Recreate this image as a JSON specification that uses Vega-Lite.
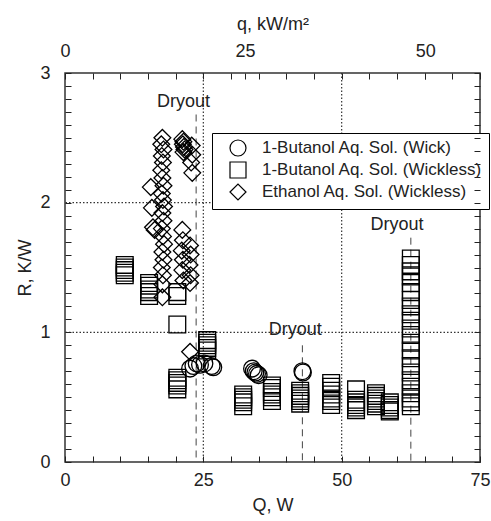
{
  "$schema": "https://vega.github.io/schema/vega-lite/v6.json",
  "width": 415,
  "height": 389,
  "autosize": {"type": "none"},
  "padding": {"left": 65, "top": 73, "right": 11, "bottom": 59},
  "background": "white",
  "config": {
    "font": "Liberation Sans",
    "view": {"stroke": "#333", "strokeWidth": 1.5},
    "axis": {
      "domain": false,
      "grid": false,
      "labelFont": "Liberation Sans",
      "labelFontSize": 18,
      "labelColor": "#222",
      "titleFont": "Liberation Sans",
      "titleFontSize": 18,
      "titleFontWeight": "normal",
      "titleColor": "#222",
      "labelFlush": false,
      "labelOverlap": false
    }
  },
  "datasets": {
    "pts": [
      {"Q": 22.6, "R": 0.72, "series": "1-Butanol Aq. Sol. (Wick)"},
      {"Q": 23.2, "R": 0.74, "series": "1-Butanol Aq. Sol. (Wick)"},
      {"Q": 23.8, "R": 0.76, "series": "1-Butanol Aq. Sol. (Wick)"},
      {"Q": 24.4, "R": 0.75, "series": "1-Butanol Aq. Sol. (Wick)"},
      {"Q": 25.2, "R": 0.76, "series": "1-Butanol Aq. Sol. (Wick)"},
      {"Q": 26.5, "R": 0.74, "series": "1-Butanol Aq. Sol. (Wick)"},
      {"Q": 26.8, "R": 0.73, "series": "1-Butanol Aq. Sol. (Wick)"},
      {"Q": 33.8, "R": 0.72, "series": "1-Butanol Aq. Sol. (Wick)"},
      {"Q": 34.1, "R": 0.7, "series": "1-Butanol Aq. Sol. (Wick)"},
      {"Q": 34.4, "R": 0.69, "series": "1-Butanol Aq. Sol. (Wick)"},
      {"Q": 34.7, "R": 0.68, "series": "1-Butanol Aq. Sol. (Wick)"},
      {"Q": 35.0, "R": 0.67, "series": "1-Butanol Aq. Sol. (Wick)"},
      {"Q": 42.9, "R": 0.7, "series": "1-Butanol Aq. Sol. (Wick)"},
      {"Q": 43.0, "R": 0.69, "series": "1-Butanol Aq. Sol. (Wick)"},

      {"Q": 10.8, "R": 1.52, "series": "1-Butanol Aq. Sol. (Wickless)"},
      {"Q": 10.8, "R": 1.5, "series": "1-Butanol Aq. Sol. (Wickless)"},
      {"Q": 10.8, "R": 1.48, "series": "1-Butanol Aq. Sol. (Wickless)"},
      {"Q": 10.8, "R": 1.46, "series": "1-Butanol Aq. Sol. (Wickless)"},
      {"Q": 10.8, "R": 1.44, "series": "1-Butanol Aq. Sol. (Wickless)"},
      {"Q": 15.2, "R": 1.38, "series": "1-Butanol Aq. Sol. (Wickless)"},
      {"Q": 15.2, "R": 1.36, "series": "1-Butanol Aq. Sol. (Wickless)"},
      {"Q": 15.2, "R": 1.33, "series": "1-Butanol Aq. Sol. (Wickless)"},
      {"Q": 15.2, "R": 1.31, "series": "1-Butanol Aq. Sol. (Wickless)"},
      {"Q": 15.2, "R": 1.28, "series": "1-Butanol Aq. Sol. (Wickless)"},
      {"Q": 20.3, "R": 1.31, "series": "1-Butanol Aq. Sol. (Wickless)"},
      {"Q": 20.3, "R": 1.28, "series": "1-Butanol Aq. Sol. (Wickless)"},
      {"Q": 20.3, "R": 1.06, "series": "1-Butanol Aq. Sol. (Wickless)"},
      {"Q": 25.7, "R": 0.94, "series": "1-Butanol Aq. Sol. (Wickless)"},
      {"Q": 25.7, "R": 0.92, "series": "1-Butanol Aq. Sol. (Wickless)"},
      {"Q": 25.7, "R": 0.9, "series": "1-Butanol Aq. Sol. (Wickless)"},
      {"Q": 25.7, "R": 0.88, "series": "1-Butanol Aq. Sol. (Wickless)"},
      {"Q": 25.7, "R": 0.86, "series": "1-Butanol Aq. Sol. (Wickless)"},
      {"Q": 20.3, "R": 0.65, "series": "1-Butanol Aq. Sol. (Wickless)"},
      {"Q": 20.3, "R": 0.63, "series": "1-Butanol Aq. Sol. (Wickless)"},
      {"Q": 20.3, "R": 0.61, "series": "1-Butanol Aq. Sol. (Wickless)"},
      {"Q": 20.3, "R": 0.59, "series": "1-Butanol Aq. Sol. (Wickless)"},
      {"Q": 20.3, "R": 0.56, "series": "1-Butanol Aq. Sol. (Wickless)"},
      {"Q": 32.2, "R": 0.52, "series": "1-Butanol Aq. Sol. (Wickless)"},
      {"Q": 32.2, "R": 0.5, "series": "1-Butanol Aq. Sol. (Wickless)"},
      {"Q": 32.2, "R": 0.48, "series": "1-Butanol Aq. Sol. (Wickless)"},
      {"Q": 32.2, "R": 0.46, "series": "1-Butanol Aq. Sol. (Wickless)"},
      {"Q": 32.2, "R": 0.43, "series": "1-Butanol Aq. Sol. (Wickless)"},
      {"Q": 37.4, "R": 0.59, "series": "1-Butanol Aq. Sol. (Wickless)"},
      {"Q": 37.4, "R": 0.57, "series": "1-Butanol Aq. Sol. (Wickless)"},
      {"Q": 37.4, "R": 0.54, "series": "1-Butanol Aq. Sol. (Wickless)"},
      {"Q": 37.4, "R": 0.52, "series": "1-Butanol Aq. Sol. (Wickless)"},
      {"Q": 37.4, "R": 0.5, "series": "1-Butanol Aq. Sol. (Wickless)"},
      {"Q": 37.4, "R": 0.47, "series": "1-Butanol Aq. Sol. (Wickless)"},
      {"Q": 42.5, "R": 0.55, "series": "1-Butanol Aq. Sol. (Wickless)"},
      {"Q": 42.5, "R": 0.53, "series": "1-Butanol Aq. Sol. (Wickless)"},
      {"Q": 42.5, "R": 0.51, "series": "1-Butanol Aq. Sol. (Wickless)"},
      {"Q": 42.5, "R": 0.49, "series": "1-Butanol Aq. Sol. (Wickless)"},
      {"Q": 42.5, "R": 0.47, "series": "1-Butanol Aq. Sol. (Wickless)"},
      {"Q": 42.5, "R": 0.45, "series": "1-Butanol Aq. Sol. (Wickless)"},
      {"Q": 48.1, "R": 0.61, "series": "1-Butanol Aq. Sol. (Wickless)"},
      {"Q": 48.1, "R": 0.58, "series": "1-Butanol Aq. Sol. (Wickless)"},
      {"Q": 48.1, "R": 0.55, "series": "1-Butanol Aq. Sol. (Wickless)"},
      {"Q": 48.1, "R": 0.52, "series": "1-Butanol Aq. Sol. (Wickless)"},
      {"Q": 48.1, "R": 0.49, "series": "1-Butanol Aq. Sol. (Wickless)"},
      {"Q": 48.1, "R": 0.47, "series": "1-Butanol Aq. Sol. (Wickless)"},
      {"Q": 48.1, "R": 0.44, "series": "1-Butanol Aq. Sol. (Wickless)"},
      {"Q": 52.6, "R": 0.56, "series": "1-Butanol Aq. Sol. (Wickless)"},
      {"Q": 52.6, "R": 0.48, "series": "1-Butanol Aq. Sol. (Wickless)"},
      {"Q": 52.6, "R": 0.46, "series": "1-Butanol Aq. Sol. (Wickless)"},
      {"Q": 52.6, "R": 0.44, "series": "1-Butanol Aq. Sol. (Wickless)"},
      {"Q": 52.6, "R": 0.42, "series": "1-Butanol Aq. Sol. (Wickless)"},
      {"Q": 52.6, "R": 0.4, "series": "1-Butanol Aq. Sol. (Wickless)"},
      {"Q": 56.2, "R": 0.53, "series": "1-Butanol Aq. Sol. (Wickless)"},
      {"Q": 56.2, "R": 0.51, "series": "1-Butanol Aq. Sol. (Wickless)"},
      {"Q": 56.2, "R": 0.49, "series": "1-Butanol Aq. Sol. (Wickless)"},
      {"Q": 56.2, "R": 0.47, "series": "1-Butanol Aq. Sol. (Wickless)"},
      {"Q": 56.2, "R": 0.45, "series": "1-Butanol Aq. Sol. (Wickless)"},
      {"Q": 56.2, "R": 0.43, "series": "1-Butanol Aq. Sol. (Wickless)"},
      {"Q": 58.7, "R": 0.46, "series": "1-Butanol Aq. Sol. (Wickless)"},
      {"Q": 58.7, "R": 0.44, "series": "1-Butanol Aq. Sol. (Wickless)"},
      {"Q": 58.7, "R": 0.42, "series": "1-Butanol Aq. Sol. (Wickless)"},
      {"Q": 58.7, "R": 0.4, "series": "1-Butanol Aq. Sol. (Wickless)"},
      {"Q": 58.7, "R": 0.39, "series": "1-Butanol Aq. Sol. (Wickless)"},
      {"Q": 62.5, "R": 1.57, "series": "1-Butanol Aq. Sol. (Wickless)"},
      {"Q": 62.5, "R": 1.52, "series": "1-Butanol Aq. Sol. (Wickless)"},
      {"Q": 62.5, "R": 1.47, "series": "1-Butanol Aq. Sol. (Wickless)"},
      {"Q": 62.5, "R": 1.43, "series": "1-Butanol Aq. Sol. (Wickless)"},
      {"Q": 62.5, "R": 1.38, "series": "1-Butanol Aq. Sol. (Wickless)"},
      {"Q": 62.5, "R": 1.31, "series": "1-Butanol Aq. Sol. (Wickless)"},
      {"Q": 62.5, "R": 1.25, "series": "1-Butanol Aq. Sol. (Wickless)"},
      {"Q": 62.5, "R": 1.2, "series": "1-Butanol Aq. Sol. (Wickless)"},
      {"Q": 62.5, "R": 1.14, "series": "1-Butanol Aq. Sol. (Wickless)"},
      {"Q": 62.5, "R": 1.09, "series": "1-Butanol Aq. Sol. (Wickless)"},
      {"Q": 62.5, "R": 1.03, "series": "1-Butanol Aq. Sol. (Wickless)"},
      {"Q": 62.5, "R": 0.98, "series": "1-Butanol Aq. Sol. (Wickless)"},
      {"Q": 62.5, "R": 0.92, "series": "1-Butanol Aq. Sol. (Wickless)"},
      {"Q": 62.5, "R": 0.86, "series": "1-Butanol Aq. Sol. (Wickless)"},
      {"Q": 62.5, "R": 0.8, "series": "1-Butanol Aq. Sol. (Wickless)"},
      {"Q": 62.5, "R": 0.74, "series": "1-Butanol Aq. Sol. (Wickless)"},
      {"Q": 62.5, "R": 0.69, "series": "1-Butanol Aq. Sol. (Wickless)"},
      {"Q": 62.5, "R": 0.63, "series": "1-Butanol Aq. Sol. (Wickless)"},
      {"Q": 62.5, "R": 0.58, "series": "1-Butanol Aq. Sol. (Wickless)"},
      {"Q": 62.5, "R": 0.53, "series": "1-Butanol Aq. Sol. (Wickless)"},
      {"Q": 62.5, "R": 0.49, "series": "1-Butanol Aq. Sol. (Wickless)"},
      {"Q": 62.5, "R": 0.46, "series": "1-Butanol Aq. Sol. (Wickless)"},
      {"Q": 62.5, "R": 0.43, "series": "1-Butanol Aq. Sol. (Wickless)"},

      {"Q": 17.6, "R": 2.5, "series": "Ethanol Aq. Sol. (Wickless)"},
      {"Q": 17.4, "R": 2.45, "series": "Ethanol Aq. Sol. (Wickless)"},
      {"Q": 17.8, "R": 2.41, "series": "Ethanol Aq. Sol. (Wickless)"},
      {"Q": 17.5, "R": 2.36, "series": "Ethanol Aq. Sol. (Wickless)"},
      {"Q": 17.7, "R": 2.31, "series": "Ethanol Aq. Sol. (Wickless)"},
      {"Q": 17.4, "R": 2.25, "series": "Ethanol Aq. Sol. (Wickless)"},
      {"Q": 17.6, "R": 2.19, "series": "Ethanol Aq. Sol. (Wickless)"},
      {"Q": 17.8, "R": 2.13, "series": "Ethanol Aq. Sol. (Wickless)"},
      {"Q": 17.5, "R": 2.07, "series": "Ethanol Aq. Sol. (Wickless)"},
      {"Q": 17.7, "R": 2.02, "series": "Ethanol Aq. Sol. (Wickless)"},
      {"Q": 17.9, "R": 1.97, "series": "Ethanol Aq. Sol. (Wickless)"},
      {"Q": 17.6, "R": 1.92, "series": "Ethanol Aq. Sol. (Wickless)"},
      {"Q": 17.8, "R": 1.86, "series": "Ethanol Aq. Sol. (Wickless)"},
      {"Q": 17.5, "R": 1.8, "series": "Ethanol Aq. Sol. (Wickless)"},
      {"Q": 17.7, "R": 1.74, "series": "Ethanol Aq. Sol. (Wickless)"},
      {"Q": 17.9, "R": 1.68, "series": "Ethanol Aq. Sol. (Wickless)"},
      {"Q": 17.6, "R": 1.62, "series": "Ethanol Aq. Sol. (Wickless)"},
      {"Q": 17.8, "R": 1.56, "series": "Ethanol Aq. Sol. (Wickless)"},
      {"Q": 17.5, "R": 1.5, "series": "Ethanol Aq. Sol. (Wickless)"},
      {"Q": 17.7, "R": 1.44, "series": "Ethanol Aq. Sol. (Wickless)"},
      {"Q": 17.6, "R": 1.37, "series": "Ethanol Aq. Sol. (Wickless)"},
      {"Q": 17.6, "R": 1.27, "series": "Ethanol Aq. Sol. (Wickless)"},
      {"Q": 15.5, "R": 2.12, "series": "Ethanol Aq. Sol. (Wickless)"},
      {"Q": 15.7, "R": 1.96, "series": "Ethanol Aq. Sol. (Wickless)"},
      {"Q": 15.9, "R": 1.81, "series": "Ethanol Aq. Sol. (Wickless)"},
      {"Q": 16.2, "R": 1.79, "series": "Ethanol Aq. Sol. (Wickless)"},
      {"Q": 21.2, "R": 2.49, "series": "Ethanol Aq. Sol. (Wickless)"},
      {"Q": 21.4, "R": 2.47, "series": "Ethanol Aq. Sol. (Wickless)"},
      {"Q": 21.3, "R": 2.45, "series": "Ethanol Aq. Sol. (Wickless)"},
      {"Q": 21.5, "R": 2.43, "series": "Ethanol Aq. Sol. (Wickless)"},
      {"Q": 21.6, "R": 2.41, "series": "Ethanol Aq. Sol. (Wickless)"},
      {"Q": 21.4, "R": 2.39, "series": "Ethanol Aq. Sol. (Wickless)"},
      {"Q": 22.9, "R": 2.44, "series": "Ethanol Aq. Sol. (Wickless)"},
      {"Q": 23.0, "R": 2.37, "series": "Ethanol Aq. Sol. (Wickless)"},
      {"Q": 22.8, "R": 2.31, "series": "Ethanol Aq. Sol. (Wickless)"},
      {"Q": 23.0, "R": 2.23, "series": "Ethanol Aq. Sol. (Wickless)"},
      {"Q": 21.2, "R": 1.79, "series": "Ethanol Aq. Sol. (Wickless)"},
      {"Q": 21.3, "R": 1.71, "series": "Ethanol Aq. Sol. (Wickless)"},
      {"Q": 21.1, "R": 1.63, "series": "Ethanol Aq. Sol. (Wickless)"},
      {"Q": 21.3, "R": 1.56, "series": "Ethanol Aq. Sol. (Wickless)"},
      {"Q": 21.2, "R": 1.48, "series": "Ethanol Aq. Sol. (Wickless)"},
      {"Q": 21.4, "R": 1.4, "series": "Ethanol Aq. Sol. (Wickless)"},
      {"Q": 22.6, "R": 1.67, "series": "Ethanol Aq. Sol. (Wickless)"},
      {"Q": 22.7, "R": 1.6, "series": "Ethanol Aq. Sol. (Wickless)"},
      {"Q": 22.5, "R": 1.52, "series": "Ethanol Aq. Sol. (Wickless)"},
      {"Q": 22.7, "R": 1.44, "series": "Ethanol Aq. Sol. (Wickless)"},
      {"Q": 22.6, "R": 1.38, "series": "Ethanol Aq. Sol. (Wickless)"},
      {"Q": 22.6, "R": 0.85, "series": "Ethanol Aq. Sol. (Wickless)"}
    ],
    "gridx": [{"Q": 25}, {"Q": 50}],
    "gridy": [{"R": 1}, {"R": 2}],
    "dry": [{"Q": 23.7, "R": 2.68}, {"Q": 42.9, "R": 0.9}, {"Q": 62.5, "R": 1.73}],
    "drylab": [
      {"Q": 21.4, "R": 2.78, "t": "Dryout"},
      {"Q": 41.6, "R": 1.02, "t": "Dryout"},
      {"Q": 60.0, "R": 1.83, "t": "Dryout"}
    ],
    "dummy": [{"q": 0, "R2": 0}]
  },
  "layer": [
    {
      "encoding": {
        "x": {
          "field": "Q", "type": "quantitative", "title": "Q, W",
          "scale": {"domain": [0, 75], "nice": false, "zero": false},
          "axis": {
            "orient": "bottom",
            "zindex": 1,
            "ticks": true,
            "tickSize": -6,
            "tickColor": "#222",
            "tickWidth": 1,
            "values": [0, 5, 10, 15, 20, 25, 30, 35, 40, 45, 50, 55, 60, 65, 70, 75],
            "labelExpr": "datum.value % 25 === 0 ? format(datum.value, 'd') : ''",
            "labelOverlap": false,
            "labelFlush": false,
            "labelPadding": 15,
            "titlePadding": 7
          }
        },
        "y": {
          "field": "R", "type": "quantitative", "title": "R, K/W",
          "scale": {"domain": [0, 3], "nice": false, "zero": false},
          "axis": {
            "orient": "left",
            "zindex": 1,
            "ticks": true,
            "tickSize": -6,
            "tickColor": "#222",
            "tickWidth": 1,
            "values": [0, 0.1, 0.2, 0.3, 0.4, 0.5, 0.6, 0.7, 0.8, 0.9, 1, 1.1, 1.2, 1.3, 1.4, 1.5, 1.6, 1.7, 1.8, 1.9, 2, 2.1, 2.2, 2.3, 2.4, 2.5, 2.6, 2.7, 2.8, 2.9, 3],
            "labelExpr": "datum.value % 1 === 0 ? format(datum.value, 'd') : ''",
            "labelOverlap": false,
            "labelFlush": false,
            "labelPadding": 21,
            "titlePadding": 5
          }
        }
      },
      "layer": [
        {
          "data": {"name": "gridx"},
          "mark": {"type": "rule", "stroke": "#333", "strokeWidth": 1.2, "strokeDash": [1.5, 2]},
          "encoding": {"y": null}
        },
        {
          "data": {"name": "gridy"},
          "mark": {"type": "rule", "stroke": "#333", "strokeWidth": 1.2, "strokeDash": [1.5, 2]},
          "encoding": {"x": null}
        },
        {
          "data": {"name": "dry"},
          "mark": {"type": "rule", "stroke": "#444", "strokeWidth": 1, "strokeDash": [7, 5]},
          "encoding": {
            "y2": {"datum": 0}
          }
        },
        {
          "data": {"name": "drylab"},
          "mark": {"type": "text", "font": "Liberation Sans", "fontSize": 18, "color": "#222"},
          "encoding": {
            "text": {"field": "t"}
          }
        },
        {
          "data": {"name": "pts"},
          "mark": {"type": "point", "filled": false, "stroke": "black", "strokeWidth": 1.3, "size": 280, "opacity": 1},
          "encoding": {
            "shape": {
              "field": "series", "type": "nominal",
              "scale": {
                "domain": ["1-Butanol Aq. Sol. (Wick)", "1-Butanol Aq. Sol. (Wickless)", "Ethanol Aq. Sol. (Wickless)"],
                "range": ["circle", "square", "diamond"]
              },
              "legend": {
                "orient": "none",
                "legendX": 147,
                "legendY": 60,
                "title": null,
                "strokeColor": "black",
                "fillColor": "white",
                "padding": 6,
                "symbolOffset": 11,
                "labelOffset": 15,
                "labelFontSize": 17,
                "labelFont": "Liberation Sans",
                "labelColor": "#222",
                "labelLimit": 300,
                "symbolSize": 256,
                "symbolStrokeColor": "black",
                "symbolFillColor": "white",
                "symbolStrokeWidth": 1.2,
                "rowPadding": 0
              }
            }
          }
        }
      ]
    },
    {
      "data": {"name": "dummy"},
      "mark": {"type": "point", "opacity": 0},
      "encoding": {
        "x": {
          "field": "q", "type": "quantitative", "title": "q, kW/m²",
          "scale": {"domain": [0, 57.6], "nice": false, "zero": false},
          "axis": {
            "orient": "top",
            "zindex": 1,
            "ticks": true,
            "tickSize": -6,
            "tickColor": "#222",
            "tickWidth": 1,
            "values": [0, 3.84, 7.68, 11.52, 15.36, 19.2, 23.04, 26.88, 30.72, 34.56, 38.4, 42.24, 46.08, 49.92, 53.76, 57.6, 25, 50],
            "labelExpr": "datum.value === 0 || datum.value === 25 || datum.value === 50 ? format(datum.value, 'd') : ''",
            "labelOverlap": false,
            "labelFlush": false,
            "labelPadding": 19,
            "titlePadding": 9
          }
        },
        "y": {
          "field": "R2", "type": "quantitative",
          "scale": {"domain": [0, 3], "nice": false, "zero": false},
          "axis": {
            "orient": "right",
            "zindex": 1,
            "ticks": true,
            "tickSize": -6,
            "tickColor": "#222",
            "tickWidth": 1,
            "title": null,
            "labels": false,
            "values": [0, 0.1, 0.2, 0.3, 0.4, 0.5, 0.6, 0.7, 0.8, 0.9, 1, 1.1, 1.2, 1.3, 1.4, 1.5, 1.6, 1.7, 1.8, 1.9, 2, 2.1, 2.2, 2.3, 2.4, 2.5, 2.6, 2.7, 2.8, 2.9, 3]
          }
        }
      }
    }
  ],
  "resolve": {"scale": {"x": "independent", "y": "independent"}}
}
